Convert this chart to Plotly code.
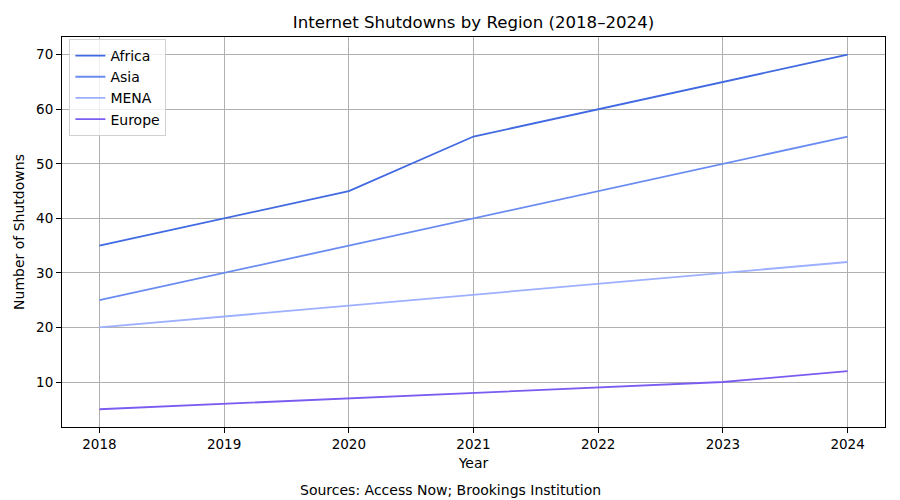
import plotly.graph_objects as go

years = [2018, 2019, 2020, 2021, 2022, 2023, 2024]
africa = [35, 40, 45, 55, 60, 65, 70]
asia = [25, 30, 35, 40, 45, 50, 55]
mena = [20, 22, 24, 26, 28, 30, 32]
europe = [5, 6, 7, 8, 9, 10, 12]

series = [
    ("Africa", africa, "#4169E1"),
    ("Asia", asia, "#6A8CF2"),
    ("MENA", mena, "#9DB0FF"),
    ("Europe", europe, "#7B5CF0"),
]

fig = go.Figure()
for name, vals, color in series:
    fig.add_trace(go.Scatter(x=years, y=vals, name=name, mode="lines",
                             line=dict(color=color, width=1.8)))

font = "DejaVu Sans, sans-serif"
axis_common = dict(
    showline=True, linecolor="black", linewidth=1, mirror=True,
    ticks="outside", ticklen=5, tickcolor="black", tickwidth=1,
    showgrid=True, gridcolor="#b0b0b0", gridwidth=1, zeroline=False,
    tickfont=dict(family=font, size=13.5, color="black"),
)

fig.update_layout(
    width=900, height=500,
    margin=dict(l=62, r=15, t=37, b=73),
    paper_bgcolor="white", plot_bgcolor="white",
    font=dict(family=font, size=14, color="black"),
    title=dict(text="Internet Shutdowns by Region (2018–2024)", x=0.5, xref="paper", xanchor="center",
               y=1 - 22 / 500, yanchor="middle", font=dict(size=16.6, family=font, color="black")),
    xaxis=dict(range=[2017.7, 2024.3], tickvals=years, ticktext=[str(y) for y in years],
               title=dict(text="Year", font=dict(size=14), standoff=6), **axis_common),
    yaxis=dict(range=[1.75, 73.25], tickvals=[10, 20, 30, 40, 50, 60, 70],
               title=dict(text="Number of Shutdowns", font=dict(size=14), standoff=8), **axis_common),
    legend=dict(x=0.009, y=0.995, xanchor="left", yanchor="top",
                bgcolor="rgba(255,255,255,0.8)", bordercolor="#d0d0d0", borderwidth=1,
                font=dict(size=14, family=font), tracegroupgap=0, itemwidth=30),
    showlegend=True,
)

fig.add_annotation(text="Sources: Access Now; Brookings Institution", xref="paper", yref="paper",
                   x=(450 - 62) / 823, y=-(490 - 427) / 390, xanchor="center", yanchor="middle",
                   showarrow=False, font=dict(size=14, family=font, color="black"))

fig.write_html("out.html")
